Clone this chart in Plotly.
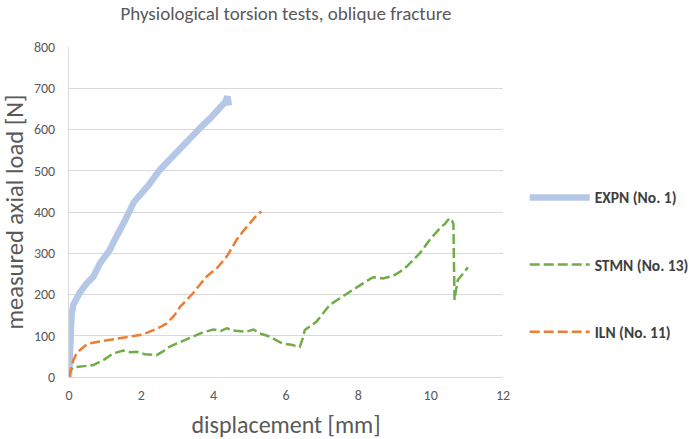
import plotly.graph_objects as go

title_text = "Physiological torsion tests, oblique fracture"
x_title = "displacement [mm]"
y_title = "measured axial load [N]"

expn_name = "EXPN (No. 1)"
expn_x = [0.0, 0.01, 0.02, 0.03, 0.05, 0.07, 0.12, 0.21, 0.3, 0.49, 0.67, 0.86, 1.0, 1.13, 1.22, 1.4, 1.55, 1.69, 1.8, 1.96, 2.2, 2.51, 2.75, 2.97, 3.2, 3.43, 3.65, 3.9, 4.1, 4.26, 4.33, 4.36, 4.38, 4.4, 4.42]
expn_y = [0, 30, 60, 95, 130, 150, 175, 195, 205, 227, 243, 276, 292, 308, 325, 352, 380, 405, 425, 441, 465, 502, 525, 546, 566, 587, 606, 627, 645, 659, 668, 676, 680, 670, 658]

stmn_name = "STMN (No. 13)"
stmn_x = [0.0, 0.02, 0.05, 0.12, 0.4, 0.67, 0.95, 1.22, 1.5, 1.7, 1.87, 2.1, 2.42, 2.6, 2.79, 3.1, 3.43, 3.7, 3.99, 4.2, 4.36, 4.6, 4.91, 5.1, 5.26, 5.4, 5.55, 5.75, 5.92, 6.15, 6.38, 6.45, 6.52, 6.84, 7.0, 7.21, 7.49, 7.76, 8.13, 8.41, 8.68, 8.96, 9.15, 9.33, 9.5, 9.7, 9.97, 10.1, 10.25, 10.4, 10.52, 10.6, 10.63, 10.64, 10.65, 10.66, 10.68, 10.75, 10.9, 11.03]
stmn_y = [0, 10, 17, 23, 26, 29, 41, 57, 64, 60, 61, 55, 53, 62, 74, 85, 98, 108, 115, 112, 118, 112, 110, 115, 106, 102, 98, 88, 81, 78, 73, 90, 114, 134, 152, 175, 191, 207, 227, 242, 239, 245, 255, 267, 282, 300, 332, 345, 360, 372, 385, 378, 370, 300, 235, 187, 200, 235, 251, 266]

iln_name = "ILN (No. 11)"
iln_x = [0.0, 0.03, 0.06, 0.12, 0.2, 0.3, 0.45, 0.58, 0.85, 1.13, 1.5, 1.96, 2.15, 2.33, 2.5, 2.7, 2.9, 3.07, 3.25, 3.43, 3.6, 3.8, 4.1, 4.36, 4.5, 4.63, 4.8, 5.0, 5.15, 5.26, 5.32]
iln_y = [0, 12, 25, 41, 55, 65, 76, 82, 86, 90, 97, 102, 107, 114, 120, 130, 148, 170, 186, 203, 222, 243, 265, 292, 312, 332, 352, 373, 388, 397, 401]

x_ticks = [0, 2, 4, 6, 8, 10, 12]
y_ticks = [0, 100, 200, 300, 400, 500, 600, 700, 800]

FONT = "Carlito, Calibri, Lato, sans-serif"
GRAY = "#595959"

fig = go.Figure()
fig.add_trace(go.Scatter(x=expn_x, y=expn_y, name=expn_name, mode="lines",
                         legendgroup="a",
                         line=dict(color="#B4C7E7", width=6.5)))
fig.add_trace(go.Scatter(x=stmn_x, y=stmn_y, name=stmn_name, mode="lines",
                         legendgroup="b",
                         line=dict(color="#70AD47", width=2.5, dash="10px,4px")))
fig.add_trace(go.Scatter(x=iln_x, y=iln_y, name=iln_name, mode="lines",
                         legendgroup="c",
                         line=dict(color="#ED7D31", width=2.5, dash="10px,4px")))

fig.update_layout(
    width=689, height=439,
    margin=dict(l=69, r=186, t=47, b=62, autoexpand=False),
    paper_bgcolor="white", plot_bgcolor="white",
    font=dict(family=FONT, color=GRAY, size=14),
    title=dict(text=title_text, x=(69 + 217) / 689, xanchor="center",
               y=1 - 13 / 439, yanchor="middle", yref="container",
               font=dict(size=19, color=GRAY, family=FONT)),
    xaxis=dict(range=[0, 12], tickvals=x_ticks, showgrid=False,
               showline=True, linecolor="#D9D9D9", linewidth=1,
               zeroline=False, ticks="", tickfont=dict(size=14, color=GRAY),
               ticklabelstandoff=5, automargin=False,
               title=dict(text=x_title, font=dict(size=24, color=GRAY), standoff=13)),
    yaxis=dict(range=[0, 800], tickvals=y_ticks, showgrid=True,
               gridcolor="#D9D9D9", gridwidth=1,
               showline=True, linecolor="#D9D9D9", linewidth=1,
               zeroline=False, ticks="", tickfont=dict(size=14, color=GRAY),
               ticklabelstandoff=10, automargin=False,
               title=dict(text=y_title, font=dict(size=24.5, color=GRAY), standoff=23)),
    legend=dict(x=1.05, xanchor="left", y=0.34, yanchor="middle",
                tracegroupgap=44, bgcolor="rgba(0,0,0,0)",
                font=dict(size=15.5, color="#404040", family=FONT),
                itemwidth=60),
    showlegend=True,
)
for tr in fig.data:
    tr.name = "<b>" + tr.name + "</b>"

fig.write_html("out.html", config={"displayModeBar": False},
               post_script="document.body.style.margin='0';")
